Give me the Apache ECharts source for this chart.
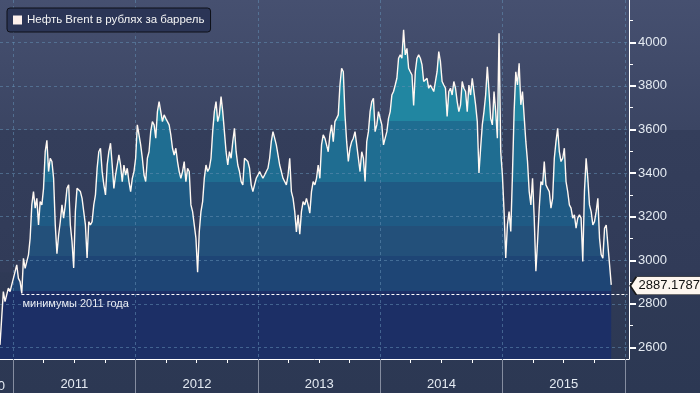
<!DOCTYPE html>
<html>
<head>
<meta charset="utf-8">
<script src="https://cdn.jsdelivr.net/npm/echarts@6/dist/echarts.min.js"></script>
<style>
html,body{margin:0;padding:0;background:#2e3955;}
#chart{width:700px;height:393px;}
</style>
</head>
<body>
<div id="chart"></div>
<script>
// ---- data ----
const seriesName = 'Нефть Brent в рублях за баррель';
const startDate = '2010-11-22';
const stepDays = 5;
const values2011 = [2612,2734,2856,2810,2841,2872,2856,2887,2917,2948,2979,2917,2902,2848,3009,2963,2994,3025,3101,3254,3315,3239,3284,3162,3269,3254,3330,3498,3550,3407,3468,3453,3376,3162,3030,3116,3177,3254,3193,3254,3330,3346,3162,3086,2965,3223,3330,3330,3315,3284,3223,3162,3010,3177,3162,3177,3254,3300,3422,3498,3514,3407,3346,3300,3437,3498,3537,3437,3330,3391,3437,3483,3437,3361];
const values2012 = [3437,3391,3422,3361,3315,3376,3407,3468,3621,3575,3529,3468,3391,3361,3468,3498,3590,3636,3621,3560,3682,3728,3682,3636,3667,3651,3636,3621,3575,3514,3483,3514,3453,3407,3376,3407,3453,3361,3422,3407,3254,3223,3162,3101,2945,3132,3223,3269,3376,3437,3407,3422,3468,3590,3682,3728,3636,3667,3751,3682,3590,3498,3437,3498,3468,3544,3605,3498,3437,3407,3361,3346,3468];
const values2013 = [3468,3453,3422,3346,3315,3346,3376,3391,3407,3391,3376,3391,3407,3422,3468,3544,3590,3560,3529,3483,3437,3407,3376,3376,3346,3391,3468,3315,3284,3223,3130,3208,3120,3223,3269,3254,3284,3254,3216,3315,3361,3346,3376,3437,3376,3529,3575,3560,3529,3498,3575,3621,3544,3636,3651,3667,3804,3881,3865,3667,3544,3453,3514,3544,3560,3590,3529,3468,3407,3498,3468,3361,3544,3590];
const values2014 = [3682,3728,3743,3590,3621,3682,3651,3621,3529,3560,3590,3651,3682,3758,3774,3804,3835,3927,3942,3927,4057,3942,3972,3881,3865,3850,3710,3865,3927,3942,3927,3896,3820,3820,3835,3789,3804,3789,3774,3774,3865,3957,3911,3820,3804,3789,3660,3774,3789,3758,3820,3789,3728,3682,3713,3820,3789,3774,3682,3804,3758,3835,3774,3713,3636,3400,3514,3621,3682,3758,3888,3774,3651];
const values2015 = [3621,3774,3682,3560,4041,3498,3391,3223,3010,3162,3223,3132,3391,3682,3865,3804,3904,3713,3774,3774,3544,3453,3315,3254,3376,3193,2950,3086,3239,3361,3346,3453,3346,3330,3315,3239,3284,3468,3544,3605,3498,3453,3468,3514,3361,3315,3254,3239,3193,3208,3147,3193,3208,3193,2994,3315,3468,3376,3254,3223,3162,3177,3223,3284,3101,3025,3009,3147,3162,3070,2979,2887.1787];
const years = [2011, 2012, 2013, 2014, 2015, 2016];
const yLabels = [2600, 2800, 3000, 3200, 3400, 3600, 3800, 4000];
const yMinor = [2700, 2900, 3100, 3300, 3500, 3700, 3900, 4100];
const bandEdges = [2860, 3020, 3155, 3360, 3640];
const bandColors = ['#1c2f66', '#1e4575', '#23507a', '#1f5a84', '#1f6d91', '#2186a1'];
const minLevel = 2845;
const minLabel = 'минимумы 2011 года';
const minStart = '2011-01-25';
const minEnd = '2016-01-08';
const axisStartDate = '2010-11-22';
const axisEndDate = '2016-01-13';
const yMin = 2547, yMax = 4194;

// ---- build ----
const DAY = 86400000;
function utc(s){ const p = s.split('-').map(Number); return Date.UTC(p[0], p[1]-1, p[2]); }
const values = [].concat(values2011, values2012, values2013, values2014, values2015);
const t0 = utc(startDate);
const points = values.map((v, i) => [t0 + i * stepDays * DAY, v]);
const last = points[points.length - 1];
const yearTicks = years.map(y => Date.UTC(y, 0, 1));
const yearLabelVals = years.slice(0, -1).map(y => Date.UTC(y, 6, 2));
const quarterVals = [];
[2010, 2011, 2012, 2013, 2014, 2015].forEach(y => { [3, 6, 9].forEach(m => quarterVals.push(Date.UTC(y, m, 1))); });

const pieces = [];
const edges = [2000].concat(bandEdges, [5000]);
for (let i = 0; i < bandColors.length; i++) {
  pieces.push({ gte: edges[i], lt: edges[i + 1], color: bandColors[i] });
}

const gridDash = { color: 'rgba(98,142,178,0.55)', type: [3, 3], width: 1 };
const labelColor = '#e4eaf2';
const font = 'Liberation Sans';
const xMin = utc(axisStartDate), xMax = utc(axisEndDate);

const chart = echarts.init(document.getElementById('chart'), null, { renderer: 'canvas' });
chart.setOption({
  animation: false,
  backgroundColor: {
    type: 'linear', x: 0, y: 0, x2: 0, y2: 1,
    colorStops: [
      { offset: 0, color: '#465070' },
      { offset: 0.33, color: '#3b4563' },
      { offset: 0.331, color: '#343e5b' },
      { offset: 0.69, color: '#313b58' },
      { offset: 0.695, color: '#2f3a56' },
      { offset: 1, color: '#2c3853' }
    ]
  },
  textStyle: { fontFamily: font },
  grid: { left: 0, right: 71, top: 0, bottom: 34 },
  legend: {
    left: 7, top: 8,
    data: [{ name: seriesName, icon: 'rect' }],
    itemWidth: 9, itemHeight: 9,
    backgroundColor: '#2b3556', borderColor: '#0e1018', borderWidth: 1, borderRadius: 3,
    padding: [5, 6, 5, 6],
    selectedMode: false,
    textStyle: { color: '#f4f4f4', fontSize: 11.5, fontFamily: font, lineHeight: 14 }
  },
  visualMap: {
    type: 'piecewise', show: false, seriesIndex: 0, dimension: 1,
    pieces: pieces
  },
  xAxis: [{
    type: 'value', min: xMin, max: xMax, position: 'bottom', z: 2,
    axisLine: { onZero: false, lineStyle: { color: '#ffffff', width: 1 } },
    axisTick: { show: true, customValues: yearTicks, length: 34, lineStyle: { color: '#858da0', width: 1 } },
    axisLabel: {
      customValues: yearLabelVals, margin: 19, color: labelColor, fontSize: 13, fontFamily: font,
      formatter: v => String(new Date(v).getUTCFullYear())
    },
    splitLine: { show: true, lineStyle: gridDash }
  }, {
    type: 'value', min: xMin, max: xMax, position: 'bottom', z: 2,
    axisLine: { show: false, onZero: false },
    axisTick: { show: true, customValues: quarterVals, length: 4, lineStyle: { color: '#ffffff', width: 1 } },
    axisLabel: { show: false },
    splitLine: { show: false }
  }],
  yAxis: [{
    type: 'value', position: 'right', min: yMin, max: yMax, z: 2,
    axisLine: { show: true, lineStyle: { color: '#ffffff', width: 1 } },
    axisTick: { show: true, customValues: yLabels, length: 7, lineStyle: { color: '#ffffff', width: 2 } },
    axisLabel: { customValues: yLabels, margin: 9, color: labelColor, fontSize: 13, fontFamily: font,
      formatter: v => String(v) },
    splitLine: { show: true, lineStyle: gridDash }
  }, {
    type: 'value', position: 'right', min: yMin, max: yMax, z: 2,
    axisLine: { show: false },
    axisTick: { show: true, customValues: yMinor, length: 4, lineStyle: { color: '#ffffff', width: 1 } },
    axisLabel: { show: false },
    splitLine: { show: false }
  }],
  series: [{
    type: 'line', name: 'area', data: points, symbol: 'none', z: 1, silent: true,
    lineStyle: { width: 0 },
    areaStyle: { opacity: 1, origin: 'start' }
  }, {
    type: 'line', name: seriesName, data: points, symbol: 'none', z: 3,
    lineStyle: { color: '#fff8f2', width: 1.4 },
    itemStyle: { color: '#fdf0ec' },
    markLine: {
      silent: true, symbol: ['none', 'none'], animation: false,
      lineStyle: { color: '#ffffff', type: [3, 2], width: 1 },
      label: { show: true, position: 'insideStartBottom', formatter: minLabel, color: '#e9ecf2', fontSize: 11, fontFamily: font, distance: [1, 4] },
      data: [[{ coord: [utc(minStart), minLevel] }, { coord: [utc(minEnd), minLevel] }]]
    },
    markPoint: {
      symbol: 'path://M0,9L6,0L72,0L72,18L6,18Z',
      symbolSize: [72, 18],
      symbolOffset: [55, 1],
      itemStyle: { color: '#fdf6ef', borderColor: '#1a1a1a', borderWidth: 1 },
      label: { show: true, position: 'inside', offset: [3, 0], color: '#111111', fontSize: 13, fontFamily: font,
        formatter: p => String(p.value) },
      data: [{ coord: last, value: last[1] }]
    }
  }],
  graphic: [{
    type: 'text', x: 5, y: 386, silent: true,
    style: { text: '2010', align: 'right', verticalAlign: 'middle', fill: labelColor, font: '13px "Liberation Sans"' }
  }]
});
</script>
</body>
</html>
